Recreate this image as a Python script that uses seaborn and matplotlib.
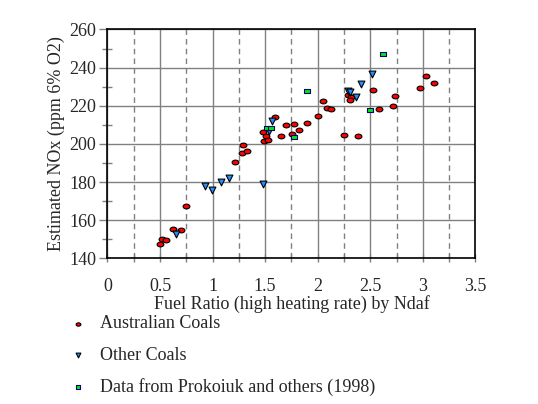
import numpy as np
import pandas as pd
import seaborn as sns
import matplotlib
matplotlib.use("Agg")
import matplotlib.pyplot as plt
from matplotlib.path import Path
from matplotlib.ticker import MultipleLocator

# Australian coals
aus_x = [0.50, 0.515, 0.554, 0.62, 0.696, 0.747, 1.213, 1.277, 1.324, 1.286,
         1.476, 1.505, 1.486, 1.524, 1.597, 1.654, 1.695, 1.752, 1.771, 1.825,
         1.901, 2.006, 2.05, 2.091, 2.123, 2.247, 2.288, 2.32, 2.31, 2.38,
         2.529, 2.58, 2.72, 2.738, 2.976, 3.034, 3.11]
aus_y = [147.6, 150.1, 149.6, 155.4, 154.8, 167.6, 190.6, 195.2, 196.2, 199.5,
         206.0, 204.2, 201.6, 202.1, 214.2, 204.2, 210.0, 205.3, 210.7, 207.4,
         211.1, 214.7, 222.6, 218.9, 218.1, 204.5, 225.7, 224.5, 223.0, 204.2,
         228.2, 218.1, 219.8, 225.0, 229.2, 235.5, 231.7]

# other coals
oth_x = [0.652, 0.925, 0.997, 1.08, 1.153, 1.48, 1.562, 1.537,
         2.285, 2.31, 2.36, 2.415, 2.517]
oth_y = [152.9, 178.0, 175.6, 180.0, 182.2, 179.1, 212.1, 206.7,
         227.8, 227.0, 224.5, 231.3, 236.4]

# Prokoiuk et al. (1998)
pro_x = [1.515, 1.556, 1.775, 1.901, 2.50, 2.621]
pro_y = [208.6, 208.4, 203.7, 227.8, 217.9, 247.1]

sns.set_theme(style="white")
plt.rcParams["font.family"] = ["Liberation Serif", "DejaVu Serif"]
plt.rcParams["font.size"] = 13

ellipse = Path.unit_circle().transformed(
    matplotlib.transforms.Affine2D().scale(1.0, 0.7))
rect = Path([(-1, -0.65), (1, -0.65), (1, 0.65), (-1, 0.65), (-1, -0.65)],
            [Path.MOVETO, Path.LINETO, Path.LINETO, Path.LINETO, Path.CLOSEPOLY])

fig = plt.figure(figsize=(5.38, 4.04), dpi=100)
ax = fig.add_axes([0.1998, 0.3606, 0.6837, 0.5664])

sns.scatterplot(x=aus_x, y=aus_y, ax=ax, marker=ellipse, s=24, color="#ff0000",
                edgecolor="black", linewidth=0.8, label="Australian Coals", zorder=3)
sns.scatterplot(x=oth_x, y=oth_y, ax=ax, marker="v", s=24, color="#1e90ff",
                edgecolor="black", linewidth=0.8, label="Other Coals", zorder=3)
sns.scatterplot(x=pro_x, y=pro_y, ax=ax, marker=rect, s=24, color="#00ee00",
                edgecolor="#000080", linewidth=0.8,
                label="Data from Prokoiuk and others (1998)", zorder=3)

ax.set_xlim(0, 3.5)
ax.set_ylim(140, 260)
ax.xaxis.set_major_locator(MultipleLocator(0.5))
ax.xaxis.set_minor_locator(MultipleLocator(0.25))
ax.yaxis.set_major_locator(MultipleLocator(20))
ax.yaxis.set_minor_locator(MultipleLocator(10))
ax.set_xticks(np.arange(0, 3.51, 0.5))
ax.set_xticklabels(["0", "0.5", "1", "1.5", "2", "2.5", "3", "3.5"])

ax.grid(False)
ax.grid(True, which="major", axis="both", color="#808080", linewidth=1.0, linestyle="-")
ax.grid(True, which="minor", axis="x", color="#808080", linewidth=1.0,
        linestyle=(0, (4, 3)))
ax.set_axisbelow(True)

for sp in ax.spines.values():
    sp.set_color("black")
    sp.set_linewidth(1.2)

ax.tick_params(axis="y", which="major", direction="out", length=6, width=1,
               color="#808080", left=True, labelsize=13, pad=2)
ax.tick_params(axis="y", which="minor", direction="inout", length=7, width=1,
               color="#808080", left=True)
ax.tick_params(axis="x", which="both", direction="inout", length=6, width=1,
               color="#808080", bottom=True, labelsize=13, pad=11)

ax.set_xlabel("Fuel Ratio (high heating rate) by Ndaf", fontsize=13, labelpad=0)
ax.set_ylabel("Estimated NOx (ppm 6% O2)", fontsize=13, labelpad=3)

ax.get_legend().remove()
handles, labels = ax.get_legend_handles_labels()
fig.legend(handles, labels, loc="upper left", bbox_to_anchor=(0.115, 0.237),
           frameon=False, fontsize=13, labelspacing=0.8, handlelength=1.0,
           handletextpad=0.7, markerscale=0.7, borderaxespad=0)

fig.savefig("out.png", dpi=100, facecolor="white")
